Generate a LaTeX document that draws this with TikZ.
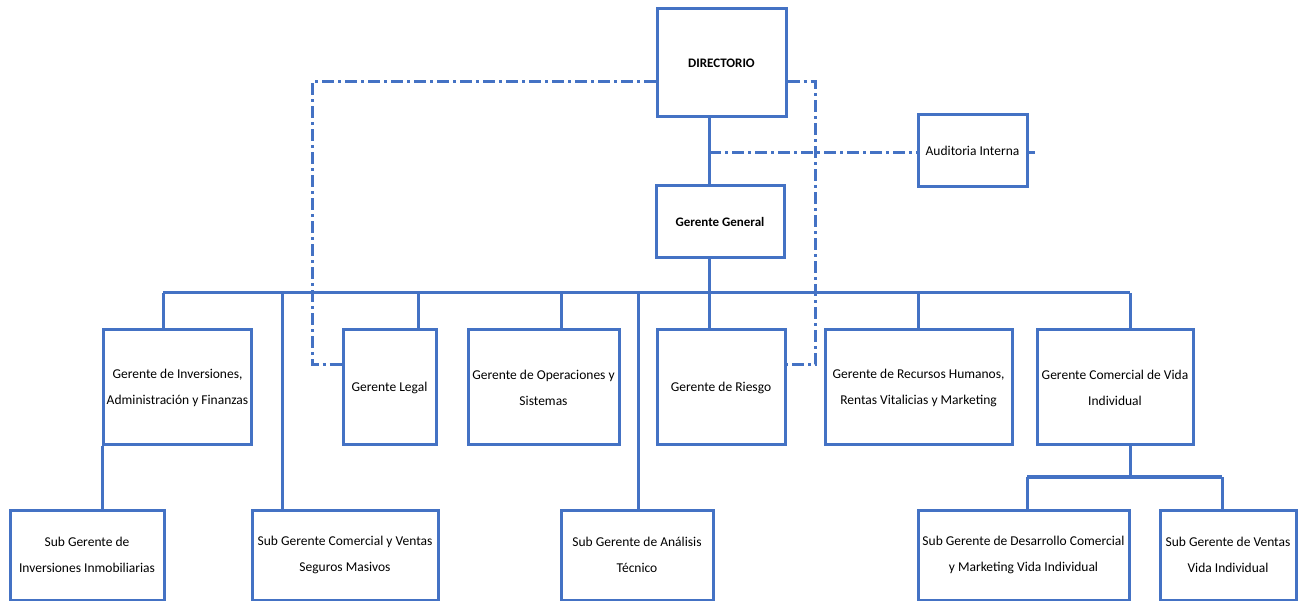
\documentclass[tikz,border=0pt]{standalone}
\usepackage{fontspec}
\setmainfont{Carlito}
\definecolor{lineblue}{RGB}{68,114,196}
\tikzset{
  box/.style={draw=lineblue, line width=3pt, fill=white, rectangle, align=center, inner sep=1pt,
    font=\fontsize{13.5}{26}\selectfont, text=black},
  boldbox/.style={box, font=\fontsize{13}{26}\selectfont\bfseries},
  conn/.style={draw=lineblue, line width=3pt},
  dashconn/.style={draw=lineblue, line width=3pt, dash pattern=on 12pt off 4pt on 3pt off 4pt}
}
\begin{document}
\begin{tikzpicture}[x=1pt,y=-1pt]
\useasboundingbox (0,0) rectangle (1299,601);
% coordinates
\coordinate (trunk) at (709,293);
\coordinate (busL) at (163,293);
\coordinate (busR) at (1130,293);
\coordinate (dLegal) at (418,293);
\coordinate (dOps) at (561,293);
\coordinate (dRrhh) at (918,293);
\coordinate (dCom) at (282,293);
\coordinate (dAna) at (638,293);
\coordinate (br) at (1130,477);
\coordinate (brL) at (1027,477);
\coordinate (brR) at (1222,477);
\coordinate (dashL) at (312,82);
\coordinate (dashR) at (815,82);
\coordinate (dashLow) at (0,365);
\coordinate (audY) at (709,153);
\coordinate (audEnd) at (1035,153);

% nodes
\node[boldbox, minimum width=129pt, minimum height=108pt] (dir) at (721.5,63) {DIRECTORIO};
\node[boldbox, minimum width=128pt, minimum height=72pt] (gg) at (720,222) {Gerente General};
\node[box, minimum width=109pt, minimum height=72pt] (aud) at (972.5,151) {Auditoria Interna};

\node[box, minimum width=148pt, minimum height=115pt] (inv) at (177.5,387.5) {Gerente de Inversiones,\\Administración y Finanzas};
\node[box, minimum width=93pt, minimum height=115pt] (legal) at (389.5,387.5) {Gerente Legal};
\node[box, minimum width=151pt, minimum height=115pt] (ops) at (543.5,387.5) {Gerente de Operaciones y\\Sistemas};
\node[box, minimum width=128pt, minimum height=115pt] (riesgo) at (721,387.5) {Gerente de Riesgo};
\node[box, minimum width=187pt, minimum height=115pt] (rrhh) at (918.5,387.5) {Gerente de Recursos Humanos,\\Rentas Vitalicias y Marketing};
\node[box, minimum width=156pt, minimum height=115pt] (vida) at (1115,387.5) {Gerente Comercial de Vida\\Individual};

\node[box, minimum width=154pt, minimum height=90pt] (sinm) at (87,555) {Sub Gerente de\\Inversiones Inmobiliarias};
\node[box, minimum width=186pt, minimum height=90pt] (scom) at (345,555) {Sub Gerente Comercial y Ventas\\Seguros Masivos};
\node[box, minimum width=152pt, minimum height=90pt] (sana) at (637,555) {Sub Gerente de Análisis\\Técnico};
\node[box, minimum width=211pt, minimum height=90pt] (sdes) at (1023.5,555) {Sub Gerente de Desarrollo Comercial\\y Marketing Vida Individual};
\node[box, minimum width=136pt, minimum height=90pt] (sven) at (1228,555) {Sub Gerente de Ventas\\Vida Individual};

% dashed connectors (Directorio to Legal / Riesgo)
\draw[dashconn] (dir.west |- dashL) -- (dashL) -- (dashL |- dashLow) -- (legal.west |- dashLow);
\draw[dashconn] (dir.east |- dashR) -- (dashR) -- (dashR |- dashLow) -- (riesgo.east |- dashLow);

% solid connectors
\draw[conn] (dir.south -| trunk) -- (gg.north -| trunk);
\draw[conn] (gg.south -| trunk) -- (trunk);
\draw[conn] (busL) -- (busR);
\draw[conn] (busL) -- (busL |- inv.north);
\draw[conn] (dLegal) -- (dLegal |- legal.north);
\draw[conn] (dOps) -- (dOps |- ops.north);
\draw[conn] (trunk) -- (trunk |- riesgo.north);
\draw[conn] (dRrhh) -- (dRrhh |- rrhh.north);
\draw[conn] (busR) -- (busR |- vida.north);
\draw[conn] (dCom) -- (dCom |- scom.north);
\draw[conn] (dAna) -- (dAna |- sana.north);
\draw[conn] (inv.south west) -- (inv.south west |- sinm.north);
\draw[conn] (vida.south -| br) -- (br);
\draw[conn] (brL) -- (brR);
\draw[conn] (brL) -- (brL |- sdes.north);
\draw[conn] (brR) -- (brR |- sven.north);

% dashed connectors to Auditoria
\draw[dashconn] (audY) -- (aud.west |- audY);
\draw[dashconn] (aud.east |- audY) -- (audEnd);
\end{tikzpicture}
\end{document}
